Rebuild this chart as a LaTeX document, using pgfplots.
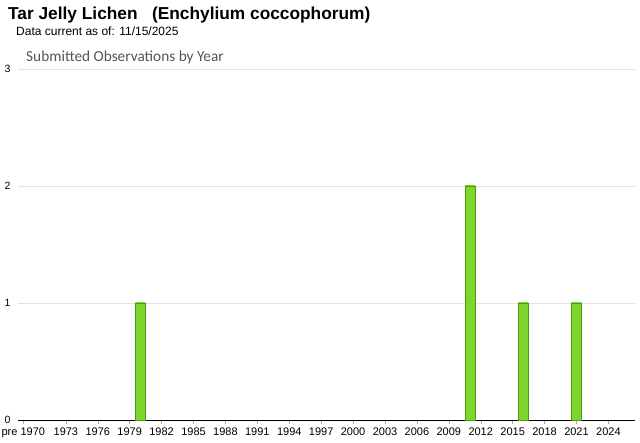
\documentclass[border=0pt]{standalone}
\usepackage{pgfplots}
\pgfplotsset{compat=1.18}
\usepackage{fontspec}
\setmainfont{Liberation Sans}
\newfontfamily\subfont{Carlito}
\definecolor{gridgray}{HTML}{E3E3E3}
\definecolor{bardark}{HTML}{4C9A12}
\definecolor{barmid}{HTML}{7ED62C}
\definecolor{barlight}{HTML}{BDF08E}
\definecolor{subgray}{HTML}{555555}
\pgfplotsset{mybar/.style={ybar, bar width=10pt, bar shift=0pt, draw=bardark, line width=0.6pt,
    left color=barmid, middle color=barlight, right color=barmid, mark=none}}
\begin{document}
\begin{tikzpicture}[x=1pt,y=1pt]
\path[use as bounding box] (0,0) rectangle (640,442);
\node[anchor=base west, inner sep=0pt, font=\fontsize{17.3}{20}\selectfont\bfseries] at (8,422) {Tar Jelly Lichen\ \ \ (Enchylium coccophorum)};
\node[anchor=base west, inner sep=0pt, font=\fontsize{12}{13}\selectfont] at (16,406.5) {Data current as of: 11/15/2025};
\node[anchor=base west, inner sep=0pt, font=\subfont\fontsize{15.3}{17}\selectfont, text=subgray] at (26,380) {Submitted Observations by Year};
\begin{axis}[
  at={(18pt,22pt)}, anchor=south west,
  scale only axis, width=617pt, height=351pt,
  xmin=1968.5, xmax=2026.5, ymin=0, ymax=3,
  axis x line*=bottom, axis y line*=left,
  x axis line style={black, line width=0.8pt, -},
  y axis line style={draw=none},
  xtick={1969,1973,1976,1979,1982,1985,1988,1991,1994,1997,2000,2003,2006,2009,2012,2015,2018,2021,2024},
  xticklabels={pre 1970,1973,1976,1979,1982,1985,1988,1991,1994,1997,2000,2003,2006,2009,2012,2015,2018,2021,2024},
  xtick style={draw=gray!70, line width=0.4pt},
  ytick style={draw=none},
  major tick length=4pt,
  tick align=outside, xtick pos=bottom, ytick pos=left,
  /pgf/number format/assume math mode=true,
  xticklabel style={font=\fontsize{11}{12}\selectfont},
  yticklabel style={font=\fontsize{10.5}{12}\selectfont},
  ytick={0,1,2,3},
  ymajorgrids, grid style={gridgray, line width=0.6pt},
  clip=false,
]
\addplot[mybar] coordinates {(1980,1)};
\addplot[mybar] coordinates {(2011,2)};
\addplot[mybar] coordinates {(2016,1)};
\addplot[mybar] coordinates {(2021,1)};
\end{axis}
\end{tikzpicture}
\end{document}
